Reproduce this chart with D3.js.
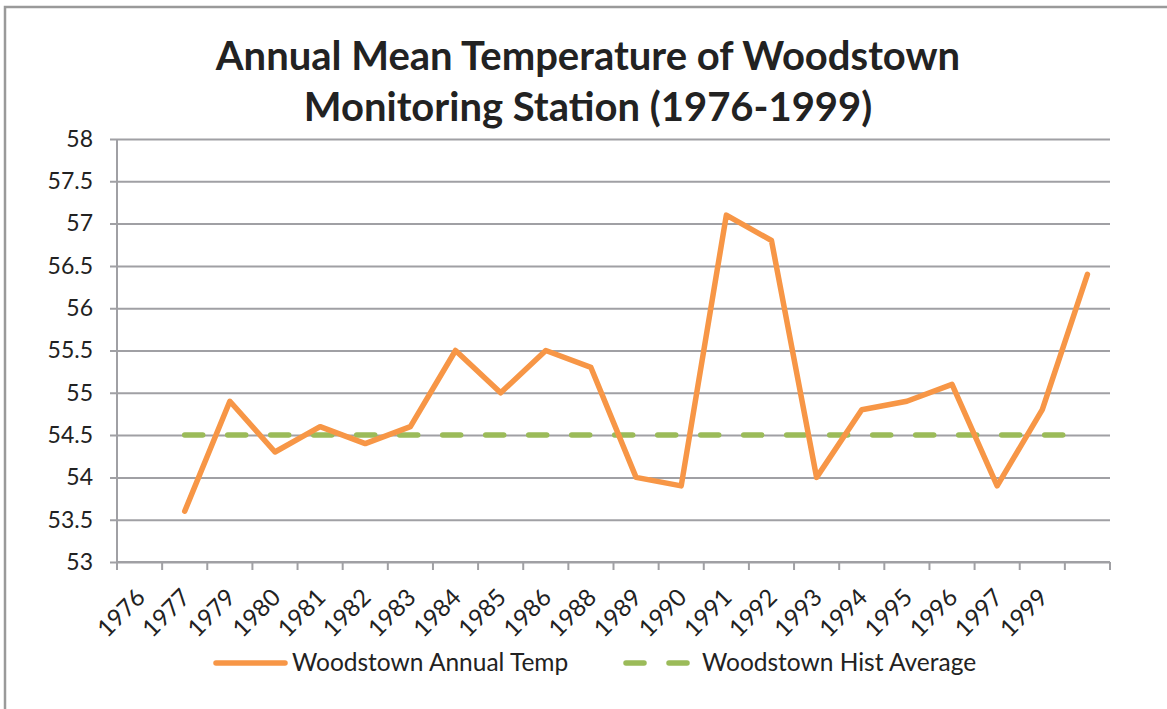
<!DOCTYPE html>
<html>
<head>
<meta charset="utf-8">
<script src="https://cdn.jsdelivr.net/npm/d3@7"></script>
<style>
  body { margin: 0; background: #fff; }
  text { font-family: Lato, "Liberation Sans", sans-serif; fill: #222; }
</style>
</head>
<body>
<div id="LINE_CHART"></div>
<script>
// category labels as they appear on the axis (last two slots blank)
const yearLabels = ['1976', '1977', '1979', '1980', '1981', '1982', '1983', '1984', '1985', '1986',
  '1988', '1989', '1990', '1991', '1992', '1993', '1994', '1995', '1996', '1997', '1999', '', ''];
// series are shifted by one slot in the original sheet
const annualTemp = [null, 53.6, 54.9, 54.3, 54.6, 54.4, 54.6, 55.5, 55.0, 55.5, 55.3,
  54.0, 53.9, 57.1, 56.8, 54.0, 54.8, 54.9, 55.1, 53.9, 54.8, 56.4];
const histAverage = [null, 54.5, 54.5, 54.5, 54.5, 54.5, 54.5, 54.5, 54.5, 54.5, 54.5,
  54.5, 54.5, 54.5, 54.5, 54.5, 54.5, 54.5, 54.5, 54.5, 54.5, 54.5];
const yTicks = [53, 53.5, 54, 54.5, 55, 55.5, 56, 56.5, 57, 57.5, 58];
const seriesNames = ['Woodstown Annual Temp', 'Woodstown Hist Average'];

const width = 1167, height = 709;
const margin = {top: 139, right: 57, bottom: 147, left: 117};
const orange = '#f79646', green = '#9bbb59', grid = '#a0a0a4';

const svg = d3.select('#LINE_CHART')
  .append('svg')
  .attr('width', width)
  .attr('height', height);

// outer frame (only top and left edges are visible in the crop)
svg.append('path')
  .attr('d', `M5,${height} V7 H${width}`)
  .attr('fill', 'none')
  .attr('stroke', '#9a9a9a')
  .attr('stroke-width', 2.5);

const title = svg.append('text')
  .attr('text-anchor', 'middle')
  .attr('font-size', 40)
  .attr('font-weight', 'bold');
title.append('tspan').attr('x', 588).attr('y', 70).text('Annual Mean Temperature of Woodstown');
title.append('tspan').attr('x', 588).attr('y', 121).text('Monitoring Station (1976-1999)');

const idx = d3.range(22);
const x = d3.scaleBand()
  .domain(idx)
  .range([margin.left, width - margin.right]);

const y = d3.scaleLinear()
  .domain([53, 58])
  .range([height - margin.bottom, margin.top]);

// gridlines + y ticks
const yAxis = g => g
  .attr('transform', `translate(${margin.left},0)`)
  .call(d3.axisLeft(y).tickValues(yTicks).tickFormat(d3.format('~g'))
    .tickSize(-(width - margin.right - margin.left)).tickSizeOuter(0))
  .call(h => h.select('.domain').remove())
  .call(h => h.selectAll('.tick line')
    .attr('x1', -7)
    .attr('stroke', grid)
    .attr('stroke-width', 2))
  .call(h => h.selectAll('.tick text')
    .attr('x', -24)
    .attr('font-size', 23)
    .attr('fill', '#222'));

svg.append('g').call(yAxis);

// category axis with ticks on the band boundaries
const xAxis = g => g
  .attr('transform', `translate(0,${y(53)})`)
  .call(g2 => g2.append('line')
    .attr('x1', margin.left).attr('x2', width - margin.right)
    .attr('stroke', grid).attr('stroke-width', 2))
  .call(g2 => g2.selectAll('.bt')
    .data(d3.range(23))
    .join('line')
    .attr('class', 'bt')
    .attr('x1', i => x.range()[0] + i * x.step())
    .attr('x2', i => x.range()[0] + i * x.step())
    .attr('y1', 0).attr('y2', 8)
    .attr('stroke', grid).attr('stroke-width', 2))
  .call(g2 => g2.selectAll('.lbl')
    .data(idx)
    .join('text')
    .attr('class', 'lbl')
    .attr('text-anchor', 'end')
    .attr('font-size', 24)
    .attr('transform', i => `translate(${x(i) + x.bandwidth() / 2 + 7},${37}) rotate(-45)`)
    .text(i => yearLabels[i]));

svg.append('g').call(xAxis);

// y axis line
svg.append('line')
  .attr('x1', margin.left).attr('x2', margin.left)
  .attr('y1', y(58)).attr('y2', y(53) + 8)
  .attr('stroke', grid).attr('stroke-width', 2);

const line = d3.line()
  .defined(d => d[1] != null)
  .x(d => x(d[0]) + x.bandwidth() / 2)
  .y(d => y(d[1]));

svg.append('path')
  .datum(histAverage.map((v, i) => [i, v]))
  .attr('fill', 'none')
  .attr('stroke', green)
  .attr('stroke-width', 5.5)
  .attr('stroke-linecap', 'round')
  .attr('stroke-dasharray', '18,25')
  .attr('d', line);

svg.append('path')
  .datum(annualTemp.map((v, i) => [i, v]))
  .attr('fill', 'none')
  .attr('stroke', orange)
  .attr('stroke-width', 5.5)
  .attr('stroke-linejoin', 'round')
  .attr('stroke-linecap', 'round')
  .attr('d', line);

// legend
const legend = svg.append('g').attr('transform', 'translate(0,663)');
legend.append('line')
  .attr('x1', 216).attr('x2', 285)
  .attr('stroke', orange).attr('stroke-width', 5.5).attr('stroke-linecap', 'round');
legend.append('text')
  .attr('x', 292).attr('y', 8).attr('font-size', 24.5)
  .text(seriesNames[0]);
legend.append('line')
  .attr('x1', 626).attr('x2', 688)
  .attr('stroke', green).attr('stroke-width', 5.5).attr('stroke-linecap', 'round')
  .attr('stroke-dasharray', '18,25');
legend.append('text')
  .attr('x', 702).attr('y', 8).attr('font-size', 24.5)
  .text(seriesNames[1]);
</script>
</body>
</html>
